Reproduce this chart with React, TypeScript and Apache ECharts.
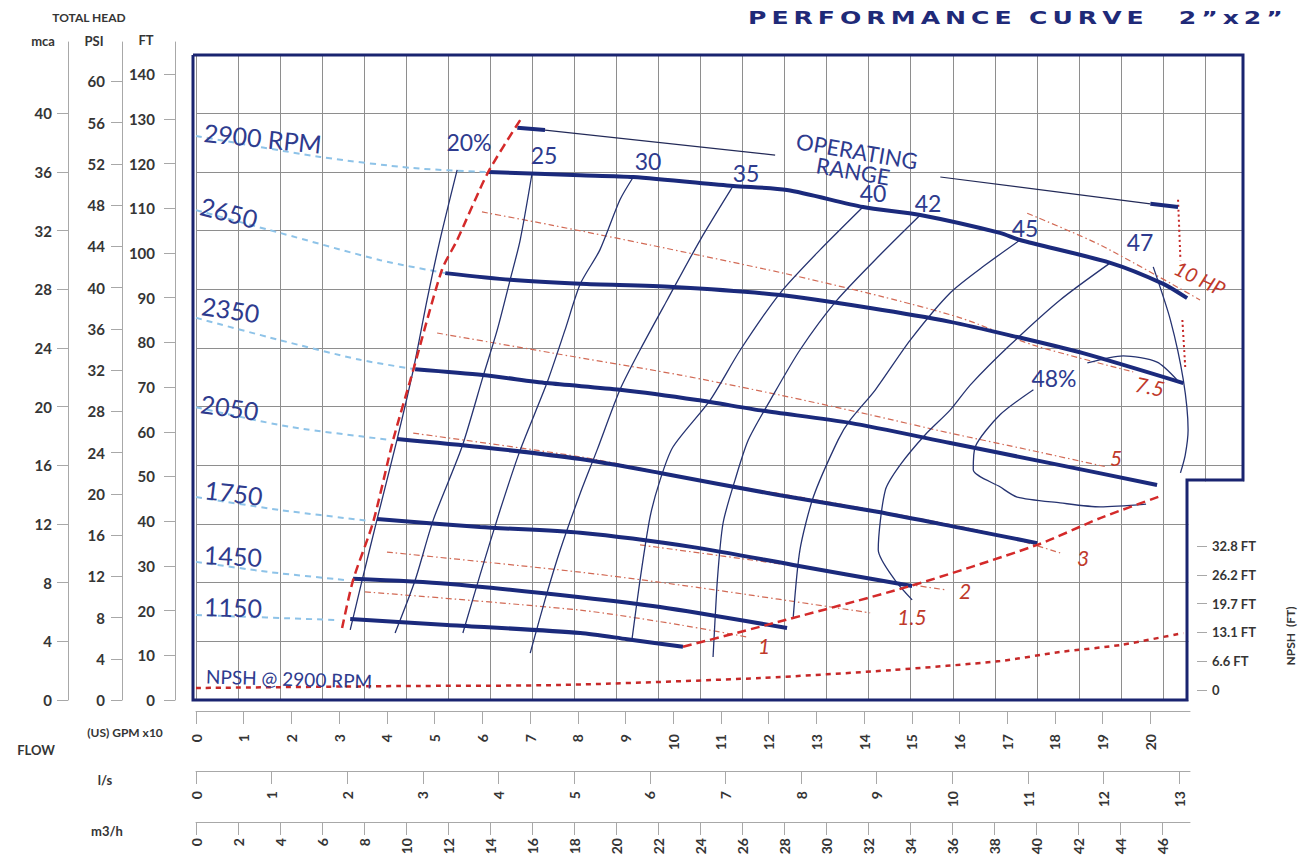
import React, { useEffect, useRef } from "react";
import * as echarts from "echarts";

// ---------- scale constants ----------
const GPM_MAX = 21.93; // main plot x extent, in (US) GPM x10
const FT_MAX = 144.3; // main plot y extent, in FT
const M3H_PER_UNIT = 2.2712; // m3/h per 10 US GPM
const UNIT_PER_LS = 1.58503; // 10 US GPM per l/s
const FT_PER_MCA = 3.28084;
const FT_PER_PSI = 2.30666;
const AXIS_GPM_MAX = 20.83;
const LEFT_FT_MAX = 147.2;

// ---------- tick values ----------
const gpmTickValues = [0, 1, 2, 3, 4, 5, 6, 7, 8, 9, 10, 11, 12, 13, 14, 15, 16, 17, 18, 19, 20];
const lsTickValues = [0, 1, 2, 3, 4, 5, 6, 7, 8, 9, 10, 11, 12, 13];
const m3hTickValues = [0, 2, 4, 6, 8, 10, 12, 14, 16, 18, 20, 22, 24, 26, 28, 30, 32, 34, 36, 38, 40, 42, 44, 46];
const ftTickValues = [0, 10, 20, 30, 40, 50, 60, 70, 80, 90, 100, 110, 120, 130, 140];
const psiTickValues = [0, 4, 8, 12, 16, 20, 24, 28, 32, 36, 40, 44, 48, 52, 56, 60];
const mcaTickValues = [0, 4, 8, 12, 16, 20, 24, 28, 32, 36, 40];
const npshTickValues = [0, 6.56, 13.12, 19.68, 26.24, 32.8];
const npshTickLabels = ["0", "6.6 FT", "13.1 FT", "19.7 FT", "26.2 FT", "32.8 FT"];

// ---------- head curves [GPM x10, FT] ----------
const rpm2900 = [[6.12, 118.1], [8.05, 117.4], [9.16, 117.0], [11.25, 115.0], [12.38, 114.1], [13.97, 110.3], [15.17, 108.5], [16.84, 104.5], [17.26, 102.9], [19.15, 97.8], [20.26, 93.1], [20.76, 89.9]];
const rpm2900Ext = [[0, 126.2], [2.6, 121.5], [4.55, 119.0], [6.12, 118.1]];
const rpm2650 = [[5.22, 95.5], [6.58, 94.0], [8.05, 93.1], [9.99, 92.4], [12.24, 90.6], [14.12, 87.7], [15.8, 84.6], [17.2, 81.2], [18.58, 77.6], [20.68, 70.9]];
const rpm2650Ext = [[0, 109.6], [1.76, 104.5], [3.86, 98.4], [5.22, 95.5]];
const rpm2350 = [[4.59, 74.0], [6.01, 72.7], [7.35, 70.9], [8.88, 69.4], [10.5, 67.1], [11.88, 64.7], [13.7, 62.0], [15.8, 57.5], [17.89, 53.0], [20.13, 48.1]];
const rpm2350Ext = [[0, 85.5], [1.76, 80.5], [3.44, 76.1], [4.59, 74.0]];
const rpm2050 = [[4.21, 58.4], [5.95, 56.6], [8.05, 53.9], [9.72, 50.8], [12.17, 45.9], [14.27, 42.1], [16.01, 38.5], [17.62, 35.1]];
const rpm2050Ext = [[0, 65.5], [1.97, 61.1], [4.06, 58.2]];
const rpm1750 = [[3.79, 40.5], [5.95, 38.7], [8.05, 37.4], [10.41, 34.2], [12.51, 30.2], [15.0, 25.5]];
const rpm1750Ext = [[0, 45.4], [1.76, 42.5], [3.6, 40.1]];
const rpm1450 = [[3.29, 27.1], [5.26, 26.0], [8.05, 23.0], [9.72, 20.8], [12.38, 16.1]];
const rpm1450Ext = [[0, 30.9], [1.55, 28.6], [3.16, 26.8]];
const rpm1150 = [[3.23, 18.1], [5.26, 16.8], [8.05, 15.0], [9.03, 13.6], [10.2, 11.9]];
const rpm1150Ext = [[0, 19.0], [2.95, 17.9]];

// ---------- operating limits ----------
const minFlowLimit = [[3.06, 16.1], [3.29, 26.8], [3.71, 39.8], [4.13, 58.2], [4.55, 73.8], [5.15, 96.2], [5.47, 102.9], [6.12, 118.1], [6.83, 130.4]];
const maxFlowLimit = [[10.2, 11.9], [11.96, 16.8], [14.96, 25.5], [17.62, 34.7], [18.94, 40.7], [20.2, 45.6]];

// ---------- efficiency curves ----------
const eff20 = [[5.47, 118.6], [5.11, 102.9], [4.84, 89.5], [4.55, 73.8], [4.21, 58.2], [3.79, 40.3], [3.48, 26.8], [3.23, 15.7]];
const eff25 = [[7.04, 117.9], [6.79, 102.9], [6.58, 94.0], [6.31, 82.8], [6.01, 72.3], [5.57, 56.6], [4.97, 40.3], [4.59, 26.8], [4.17, 15.0]];
const eff30 = [[9.16, 117.0], [8.88, 111.9], [8.46, 100.7], [8.05, 93.1], [7.73, 82.8], [7.35, 70.9], [6.79, 55.9], [6.37, 42.5], [5.95, 28.0], [5.59, 15.0]];
const eff35 = [[11.25, 115.0], [10.56, 102.9], [9.87, 89.5], [9.3, 78.3], [8.88, 69.4], [8.4, 55.9], [8.05, 46.3], [7.63, 33.6], [7.31, 22.4], [7.0, 10.5]];
const eff40 = [[13.97, 110.3], [13.07, 100.7], [12.24, 91.1], [11.4, 78.3], [10.77, 67.1], [9.99, 56.6], [9.72, 49.2], [9.51, 40.9], [9.3, 26.8], [9.13, 13.4]];
const eff42 = [[15.17, 108.5], [14.33, 99.6], [13.43, 89.5], [12.65, 78.3], [12.03, 67.1], [11.57, 58.2], [11.29, 49.2], [11.04, 39.6], [10.92, 26.8], [10.83, 9.6]];
const eff45 = [[17.26, 102.9], [16.53, 97.3], [15.8, 91.1], [14.96, 80.5], [14.23, 69.4], [13.7, 62.6], [13.45, 58.2], [12.93, 45.4], [12.65, 33.6], [12.51, 18.6]];
const eff47 = [[19.15, 97.8], [18.1, 89.5], [17.05, 79.4], [16.22, 70.5], [15.8, 64.9], [15.27, 59.3], [14.75, 52.6], [14.44, 47.0], [14.29, 33.6], [14.64, 26.8], [15.0, 22.4]];
const eff47Right = [[20.05, 96.9], [20.41, 85.0], [20.68, 71.6], [20.78, 60.4], [20.72, 54.8], [20.62, 50.8]];
const eff48Top = [[18.67, 75.4], [19.42, 77.0], [20.13, 75.6], [20.55, 71.6]];
const eff48Loop = [[17.54, 69.4], [16.84, 63.8], [16.32, 56.6], [16.28, 51.5], [16.84, 47.7], [17.2, 45.4], [18.1, 44.1], [18.94, 43.2], [19.9, 43.8]];

// ---------- power lines (HP) ----------
const hp10 = [[17.41, 108.9], [18.94, 101.8], [21.03, 89.5]];
const hp10LimitA = [[20.57, 111.9], [20.62, 98.4]];
const hp10LimitB = [[20.66, 85.0], [20.72, 74.5]];
const hp75 = [[5.99, 109.2], [7.42, 106.3], [9.51, 101.8], [12.3, 95.5], [14.39, 90.2], [16.01, 85.5], [17.54, 79.4], [19.63, 73.4]];
const hp5 = [[5.05, 82.1], [7.48, 77.6], [10.14, 72.7], [12.24, 68.2], [14.12, 63.8], [15.8, 59.7], [17.47, 55.9], [19.09, 52.1]];
const hp3 = [[4.55, 59.7], [8.05, 54.4], [10.56, 49.2], [12.65, 45.4], [14.75, 41.4], [16.84, 36.9], [18.1, 32.9]];
const hp2 = [[9.3, 34.7], [12.51, 30.0], [14.33, 26.8], [15.73, 24.6]];
const hp15 = [[4.0, 33.1], [8.05, 28.6], [10.56, 25.1], [14.12, 19.5]];
const hp1 = [[3.54, 24.2], [8.05, 20.1], [10.14, 16.8], [11.54, 14.1]];

// ---------- operating range markers ----------
const opLeftBar = [[6.73, 128.0], [7.31, 127.5]];
const opLeftLine = [[7.31, 127.5], [12.13, 121.9]];
const opRightLine = [[15.59, 117.0], [19.99, 111.0]];
const opRightBar = [[19.99, 111.0], [20.57, 110.3]];

// ---------- NPSH [GPM x10, FT] ----------
const npsh2900 = [[0, 0.46], [4.27, 0.9], [7.63, 1.14], [11.82, 2.73], [14.6, 4.56], [16.84, 6.6], [18.1, 8.66], [19.36, 10.25], [20.68, 13.0]];

// ---------- styles ----------
const NAVY = "#1b2a7c";
const LABEL_BLUE = "#2e3b8e";
const RED = "#d42a2a";
const RED_TEXT = "#c0392b";
const TICK_GRAY = "#a8a8a8";
const TEXT_DARK = "#353535";
const LABEL_FONT = "Lato, 'DejaVu Sans', sans-serif";

const tickLabelStyle = {
  color: TEXT_DARK,
  fontFamily: LABEL_FONT,
  fontWeight: "bold" as const,
  fontSize: 15,
};

function mkLine(data: number[][], lineStyle: any, z: number, extra: any = {}, yAxisIndex = 0) {
  return {
    type: "line",
    data,
    xAxisIndex: 0,
    yAxisIndex,
    showSymbol: false,
    symbol: "none",
    smooth: 0.25,
    silent: true,
    z,
    lineStyle,
    ...extra,
  };
}

function txt(text: string, x: number, y: number, opts: any = {}) {
  const {
    size = 23,
    color = LABEL_BLUE,
    rot = 0,
    align = "center",
    weight = "normal",
    italic = false,
    family = LABEL_FONT,
    scaleX = 1,
  } = opts;
  return {
    type: "text",
    x,
    y,
    rotation: rot,
    scaleX,
    z: 20,
    silent: true,
    style: {
      text,
      fill: color,
      fontSize: size,
      fontFamily: family,
      fontWeight: weight,
      fontStyle: italic ? "italic" : "normal",
      align,
      verticalAlign: "middle",
      textAlign: align,
      textVerticalAlign: "middle",
    },
  };
}

function measure(text: string, font: string) {
  const c = document.createElement("canvas").getContext("2d");
  if (!c) return text.length * 12;
  c.font = font;
  return c.measureText(text).width;
}

function bottomAxis(gridIndex: number, max: number, ticks: number[], margin: number) {
  return {
    gridIndex,
    type: "value",
    position: "bottom",
    min: 0,
    max,
    axisLine: { show: true, lineStyle: { color: TICK_GRAY, width: 1 } },
    axisTick: { show: true, length: 13, customValues: ticks, lineStyle: { color: TICK_GRAY } },
    axisLabel: {
      show: true,
      rotate: 90,
      margin,
      customValues: ticks,
      ...tickLabelStyle,
      fontSize: 14,
      formatter: (v: number) => (ticks.some((t) => Math.abs(t - v) < 1e-6) ? String(v) : ""),
    },
    splitLine: { show: false },
  };
}

function leftAxis(max: number, ticks: number[], offset: number, margin: number) {
  return {
    gridIndex: 4,
    type: "value",
    position: "left",
    offset,
    min: 0,
    max,
    axisLine: { show: true, lineStyle: { color: TICK_GRAY, width: 1 } },
    axisTick: { show: true, length: 11, customValues: ticks, lineStyle: { color: TICK_GRAY } },
    axisLabel: {
      show: true,
      margin,
      customValues: ticks,
      ...tickLabelStyle,
      formatter: (v: number) => (ticks.some((t) => Math.abs(t - v) < 1e-6) ? String(v) : ""),
    },
    splitLine: { show: false },
  };
}

function spaced(word: string) {
  return word.split("").join("\u2009");
}

function buildOption() {
  const headStyle = { color: NAVY, width: 4 };
  const extStyle = { color: "#8ec3e8", width: 2, type: [6, 5] };
  const effStyle = { color: "#263371", width: 1.3 };
  const limitStyle = { color: RED, width: 2.5, type: [9, 5] };
  const powerStyle = { color: "#d26a55", width: 1.2, type: [6, 3, 1.5, 3] };

  const titleText = spaced("PERFORMANCE") + "  " + spaced("CURVE") + "    " + spaced("2”x2”");
  const titleFont = "bold 18px 'DejaVu Sans'";
  const titleScale = 535 / measure(titleText, titleFont);

  const series: any[] = [
    // dashed speed extensions
    mkLine(rpm2900Ext, extStyle, 2),
    mkLine(rpm2650Ext, extStyle, 2),
    mkLine(rpm2350Ext, extStyle, 2),
    mkLine(rpm2050Ext, extStyle, 2),
    mkLine(rpm1750Ext, extStyle, 2),
    mkLine(rpm1450Ext, extStyle, 2),
    mkLine(rpm1150Ext, extStyle, 2),
    // power lines
    mkLine(hp10, powerStyle, 3),
    mkLine(hp75, powerStyle, 3),
    mkLine(hp5, powerStyle, 3),
    mkLine(hp3, powerStyle, 3),
    mkLine(hp2, powerStyle, 3),
    mkLine(hp15, powerStyle, 3),
    mkLine(hp1, powerStyle, 3),
    mkLine(hp10LimitA, { color: "#c62828", width: 2, type: [2, 3] }, 3),
    mkLine(hp10LimitB, { color: "#c62828", width: 2, type: [2, 3] }, 3),
    // efficiency
    mkLine(eff20, effStyle, 4),
    mkLine(eff25, effStyle, 4),
    mkLine(eff30, effStyle, 4),
    mkLine(eff35, effStyle, 4),
    mkLine(eff40, effStyle, 4),
    mkLine(eff42, effStyle, 4),
    mkLine(eff45, effStyle, 4),
    mkLine(eff47, effStyle, 4),
    mkLine(eff47Right, effStyle, 4),
    mkLine(eff48Top, effStyle, 4),
    mkLine(eff48Loop, effStyle, 4),
    // operating range
    mkLine(opLeftLine, { color: "#232a58", width: 1.2 }, 4, { smooth: false }),
    mkLine(opRightLine, { color: "#232a58", width: 1.2 }, 4, { smooth: false }),
    mkLine(opLeftBar, { color: NAVY, width: 4 }, 5, { smooth: false }),
    mkLine(opRightBar, { color: NAVY, width: 4 }, 5, { smooth: false }),
    // head curves
    mkLine(rpm2900, headStyle, 5),
    mkLine(rpm2650, headStyle, 5),
    mkLine(rpm2350, headStyle, 5),
    mkLine(rpm2050, headStyle, 5),
    mkLine(rpm1750, headStyle, 5),
    mkLine(rpm1450, headStyle, 5),
    mkLine(rpm1150, headStyle, 5),
    // limits
    mkLine(minFlowLimit, limitStyle, 6),
    mkLine(maxFlowLimit, limitStyle, 6),
    // NPSH
    mkLine(npsh2900, { color: "#c62828", width: 2.5, type: [5, 5] }, 6, {}, 2),
  ];

  const graphic: any[] = [
    // notch (outside the plot frame)
    { type: "rect", z: 1, silent: true, shape: { x: 1188.5, y: 481.5, width: 70, height: 222 }, style: { fill: "#ffffff" } },
    // plot frame
    {
      type: "polyline",
      z: 15,
      silent: true,
      shape: { points: [[193, 55], [1243, 55], [1243, 480], [1187, 480], [1187, 700], [193, 700], [193, 55]] },
      style: { stroke: "#1a2470", lineWidth: 3, fill: null },
    },
    // title
    txt(titleText, 748, 18, { size: 18, color: "#1f2a78", weight: "bold", align: "left", family: "'DejaVu Sans'", scaleX: titleScale }),
    // head axis captions
    txt("TOTAL HEAD", 89, 17, { size: 12, color: TEXT_DARK, weight: "bold" }),
    txt("mca", 43, 41, { size: 13, color: TEXT_DARK, weight: "bold" }),
    txt("PSI", 94, 41, { size: 13, color: TEXT_DARK, weight: "bold" }),
    txt("FT", 146, 40, { size: 13, color: TEXT_DARK, weight: "bold" }),
    // flow captions
    txt("(US) GPM x10", 125, 732, { size: 12, color: TEXT_DARK, weight: "bold" }),
    txt("FLOW", 36, 750, { size: 13, color: TEXT_DARK, weight: "bold" }),
    txt("l/s", 105, 780, { size: 13, color: TEXT_DARK, weight: "bold" }),
    txt("m3/h", 107, 831, { size: 13, color: TEXT_DARK, weight: "bold" }),
    txt("NPSH  (FT)", 1290, 636, { size: 12, color: TEXT_DARK, weight: "bold", rot: Math.PI / 2 }),
    // speed labels
    txt("2900 RPM", 204, 132, { size: 25, align: "left", rot: -0.1 }),
    txt("2650", 201, 205, { size: 25, align: "left", rot: -0.25 }),
    txt("2350", 202, 305, { size: 25, align: "left", rot: -0.15 }),
    txt("2050", 201, 403, { size: 25, align: "left", rot: -0.14 }),
    txt("1750", 205, 489, { size: 25, align: "left", rot: -0.12 }),
    txt("1450", 204, 554, { size: 25, align: "left", rot: -0.05 }),
    txt("1150", 204, 606, { size: 25, align: "left", rot: -0.03 }),
    txt("NPSH @ 2900 RPM", 206, 676, { size: 19, align: "left", rot: -0.03 }),
    // efficiency labels
    txt("20%", 469, 142),
    txt("25", 544, 155),
    txt("30", 648, 161),
    txt("35", 746, 173),
    txt("40", 873, 193),
    txt("42", 928, 203),
    txt("45", 1025, 228),
    txt("47", 1140, 242),
    txt("48%", 1054, 378),
    txt("OPERATING", 857, 151, { size: 22, rot: -0.17 }),
    txt("RANGE", 853, 171, { size: 22, rot: -0.17 }),
    // power labels
    txt("10 HP", 1200, 278, { size: 20, color: RED_TEXT, rot: -0.45, italic: true }),
    txt("7.5", 1150, 386, { size: 21, color: RED_TEXT, rot: -0.2, italic: true }),
    txt("5", 1116, 457, { size: 21, color: RED_TEXT, italic: true }),
    txt("3", 1083, 557, { size: 21, color: RED_TEXT, italic: true }),
    txt("2", 965, 590, { size: 21, color: RED_TEXT, italic: true }),
    txt("1.5", 912, 616, { size: 21, color: RED_TEXT, italic: true }),
    txt("1", 764, 645, { size: 21, color: RED_TEXT, italic: true }),
  ];

  return {
    animation: false,
    backgroundColor: "#ffffff",
    grid: [
      { left: 196, top: 55, width: 1047, height: 645 },
      { left: 196, top: 710, width: 994, height: 1 },
      { left: 196, top: 770, width: 994, height: 1 },
      { left: 196, top: 821, width: 994, height: 1 },
      { left: 175, top: 42, width: 1, height: 658 },
      { left: 1197, top: 546, width: 1, height: 144 },
    ],
    xAxis: [
      { gridIndex: 0, type: "value", min: 0, max: GPM_MAX, show: false },
      {
        gridIndex: 0,
        type: "value",
        min: 0,
        max: GPM_MAX * M3H_PER_UNIT,
        interval: 2,
        axisLine: { show: false },
        axisTick: { show: false },
        axisLabel: { show: false },
        splitLine: { show: true, lineStyle: { color: "#8e8e8e", width: 1 } },
      },
      bottomAxis(1, AXIS_GPM_MAX, gpmTickValues, 23),
      bottomAxis(2, AXIS_GPM_MAX / UNIT_PER_LS, lsTickValues, 20),
      bottomAxis(3, AXIS_GPM_MAX * M3H_PER_UNIT, m3hTickValues, 16),
      { gridIndex: 4, type: "value", min: 0, max: 1, show: false },
      { gridIndex: 5, type: "value", min: 0, max: 1, show: false },
    ],
    yAxis: [
      { gridIndex: 0, type: "value", min: 0, max: FT_MAX, show: false },
      {
        gridIndex: 0,
        type: "value",
        min: 0,
        max: FT_MAX / FT_PER_MCA,
        interval: 4,
        axisLine: { show: false },
        axisTick: { show: false },
        axisLabel: { show: false },
        splitLine: { show: true, lineStyle: { color: "#8e8e8e", width: 1 } },
      },
      { gridIndex: 0, type: "value", min: -2.278, max: 144.64, show: false },
      { gridIndex: 1, type: "value", min: 0, max: 1, show: false },
      { gridIndex: 2, type: "value", min: 0, max: 1, show: false },
      { gridIndex: 3, type: "value", min: 0, max: 1, show: false },
      leftAxis(LEFT_FT_MAX, ftTickValues, 0, 20),
      leftAxis(LEFT_FT_MAX / FT_PER_PSI, psiTickValues, 53, 17),
      leftAxis(LEFT_FT_MAX / FT_PER_MCA, mcaTickValues, 107, 16),
      {
        gridIndex: 5,
        type: "value",
        position: "right",
        z: 12,
        min: 0,
        max: 32.81,
        axisLine: { show: false },
        axisTick: { show: true, length: 10, customValues: npshTickValues, lineStyle: { color: TICK_GRAY } },
        axisLabel: {
          show: true,
          margin: 14,
          customValues: npshTickValues,
          ...tickLabelStyle,
          fontSize: 13,
          formatter: (v: number) => {
            const i = npshTickValues.findIndex((t) => Math.abs(t - v) < 0.01);
            return i >= 0 ? npshTickLabels[i] : "";
          },
        },
        splitLine: { show: false },
      },
    ],
    series,
    graphic,
  };
}

export default function App() {
  const ref = useRef<HTMLDivElement>(null);
  useEffect(() => {
    if (!ref.current) return;
    const chart = echarts.init(ref.current, null, { renderer: "svg", width: 1306, height: 863 });
    chart.setOption(buildOption() as any);
    return () => chart.dispose();
  }, []);
  return (
    <div
      ref={ref}
      style={{ position: "absolute", left: 0, top: 0, width: 1306, height: 863, background: "#fff" }}
    />
  );
}
